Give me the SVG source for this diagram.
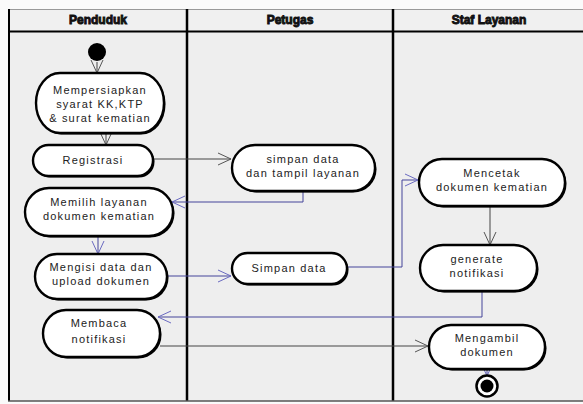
<svg xmlns="http://www.w3.org/2000/svg" width="583" height="404" viewBox="0 0 583 404">
<defs>
<style>
.hd{font-family:"Liberation Sans",Arial,sans-serif;font-size:12px;font-weight:bold;fill:#111;stroke:#111;stroke-width:0.9;text-anchor:middle}
.tx{font-family:"Liberation Sans",Arial,sans-serif;font-size:11px;letter-spacing:1.2px;fill:#222;text-anchor:middle}
.sh{fill:#000}
.nd{fill:#fff;stroke:#000;stroke-width:2.4}
.g{fill:none;stroke:#444;stroke-width:1}
.b{fill:none;stroke:#44449a;stroke-width:1}
</style>
<marker id="ag" markerWidth="16" markerHeight="14" refX="13" refY="7" orient="auto" markerUnits="userSpaceOnUse">
<path d="M0,1 L13,7 L0,13" fill="none" stroke="#555" stroke-width="1"/>
</marker>
<marker id="ab" markerWidth="16" markerHeight="14" refX="13" refY="7" orient="auto" markerUnits="userSpaceOnUse">
<path d="M0,1 L13,7 L0,13" fill="none" stroke="#6a6ac0" stroke-width="1"/>
</marker>
</defs>
<rect x="0" y="0" width="583" height="404" fill="#fafafa"/>
<rect x="8" y="9" width="580" height="392" fill="#eeeeee"/>
<rect x="8" y="9" width="580" height="22" fill="#f0f0f0"/>
<g id="frame">
<line x1="8" y1="9.5" x2="583" y2="9.5" stroke="#999" stroke-width="1"/>
<line x1="8" y1="31.5" x2="583" y2="31.5" stroke="#000" stroke-width="2"/>
<line x1="9" y1="9" x2="9" y2="401" stroke="#000" stroke-width="2"/>
<line x1="187" y1="9" x2="187" y2="401" stroke="#000" stroke-width="2.5"/>
<line x1="393" y1="9" x2="393" y2="401" stroke="#000" stroke-width="2.5"/>
<line x1="8" y1="401" x2="583" y2="401" stroke="#555" stroke-width="1.5"/>
<text class="hd" x="98" y="24">Penduduk</text>
<text class="hd" x="290" y="24">Petugas</text>
<text class="hd" x="489" y="24">Staf Layanan</text>
</g>
<g id="connectors">
<line class="g" x1="97" y1="62" x2="97" y2="73" marker-end="url(#ag)"/>
<line class="g" x1="106" y1="133" x2="106" y2="145" marker-end="url(#ag)"/>
<line class="g" x1="153" y1="159" x2="231" y2="159" marker-end="url(#ag)"/>
<polyline class="b" points="303,192 303,202 172,202" marker-end="url(#ab)"/>
<line class="b" x1="98" y1="237" x2="98" y2="254" marker-end="url(#ab)"/>
<line class="b" x1="167" y1="276" x2="231" y2="276" marker-end="url(#ab)"/>
<polyline class="b" points="347,267 402,267 402,180 418,180" marker-end="url(#ab)"/>
<line class="g" x1="490" y1="207" x2="490" y2="245" marker-end="url(#ag)"/>
<polyline class="b" points="482,292 482,317 158,317" marker-end="url(#ab)"/>
<line class="g" x1="160" y1="346" x2="428" y2="346" marker-end="url(#ag)"/>
<line class="b" x1="487" y1="370" x2="487" y2="376" marker-end="url(#ab)"/>
</g>
<g id="start"><circle cx="97" cy="52" r="9" fill="#000"/></g>
<g id="n1">
<rect class="sh" x="37.5" y="74.5" width="128" height="60" rx="24" ry="30"/>
<rect class="nd" x="36" y="73" width="128" height="60" rx="24" ry="30"/>
<text class="tx" x="100" y="94">Mempersiapkan</text>
<text class="tx" x="100" y="108">syarat KK,KTP</text>
<text class="tx" x="100" y="122">&amp; surat kematian</text>
</g>
<g id="n2">
<rect class="sh" x="34.5" y="146.5" width="120" height="31" rx="15.5" ry="15.5"/>
<rect class="nd" x="33" y="145" width="120" height="31" rx="15.5" ry="15.5"/>
<text class="tx" x="93" y="164">Registrasi</text>
</g>
<g id="n3">
<rect class="sh" x="26.5" y="189.5" width="148" height="48" rx="24" ry="24"/>
<rect class="nd" x="25" y="188" width="148" height="48" rx="24" ry="24"/>
<text class="tx" x="99" y="206">Memilih layanan</text>
<text class="tx" x="99" y="220">dokumen kematian</text>
</g>
<g id="n4">
<rect class="sh" x="36.5" y="255.5" width="132" height="45" rx="22" ry="22.5"/>
<rect class="nd" x="35" y="254" width="132" height="45" rx="22" ry="22.5"/>
<text class="tx" x="101" y="271">Mengisi data dan</text>
<text class="tx" x="101" y="285">upload dokumen</text>
</g>
<g id="n5">
<rect class="sh" x="44.5" y="311.5" width="117" height="47" rx="23" ry="23.5"/>
<rect class="nd" x="43" y="310" width="117" height="47" rx="23" ry="23.5"/>
<text class="tx" x="99" y="327">Membaca</text>
<text class="tx" x="99" y="343">notifikasi</text>
</g>
<g id="n6">
<rect class="sh" x="233.5" y="146.5" width="143" height="46" rx="23" ry="23"/>
<rect class="nd" x="232" y="145" width="143" height="46" rx="23" ry="23"/>
<text class="tx" x="303" y="163">simpan data</text>
<text class="tx" x="303" y="177">dan tampil layanan</text>
</g>
<g id="n7">
<rect class="sh" x="233.5" y="254.5" width="115" height="31" rx="15.5" ry="15.5"/>
<rect class="nd" x="232" y="253" width="115" height="31" rx="15.5" ry="15.5"/>
<text class="tx" x="289" y="272">Simpan data</text>
</g>
<g id="n8">
<rect class="sh" x="420.5" y="160.5" width="146" height="47" rx="23" ry="23.5"/>
<rect class="nd" x="419" y="159" width="146" height="47" rx="23" ry="23.5"/>
<text class="tx" x="492" y="177">Mencetak</text>
<text class="tx" x="492" y="191">dokumen kematian</text>
</g>
<g id="n9">
<rect class="sh" x="421.5" y="246.5" width="117" height="46" rx="23" ry="23"/>
<rect class="nd" x="420" y="245" width="117" height="46" rx="23" ry="23"/>
<text class="tx" x="477" y="263">generate</text>
<text class="tx" x="477" y="277">notifikasi</text>
</g>
<g id="n10">
<rect class="sh" x="430.5" y="326.5" width="116" height="44" rx="22" ry="22"/>
<rect class="nd" x="429" y="325" width="116" height="44" rx="22" ry="22"/>
<text class="tx" x="487" y="342">Mengambil</text>
<text class="tx" x="487" y="356">dokumen</text>
</g>
<g id="end">
<circle cx="487" cy="386" r="10.5" fill="#fff" stroke="#000" stroke-width="2.5"/>
<circle cx="487" cy="386" r="6.5" fill="#000"/>
</g>
</svg>
